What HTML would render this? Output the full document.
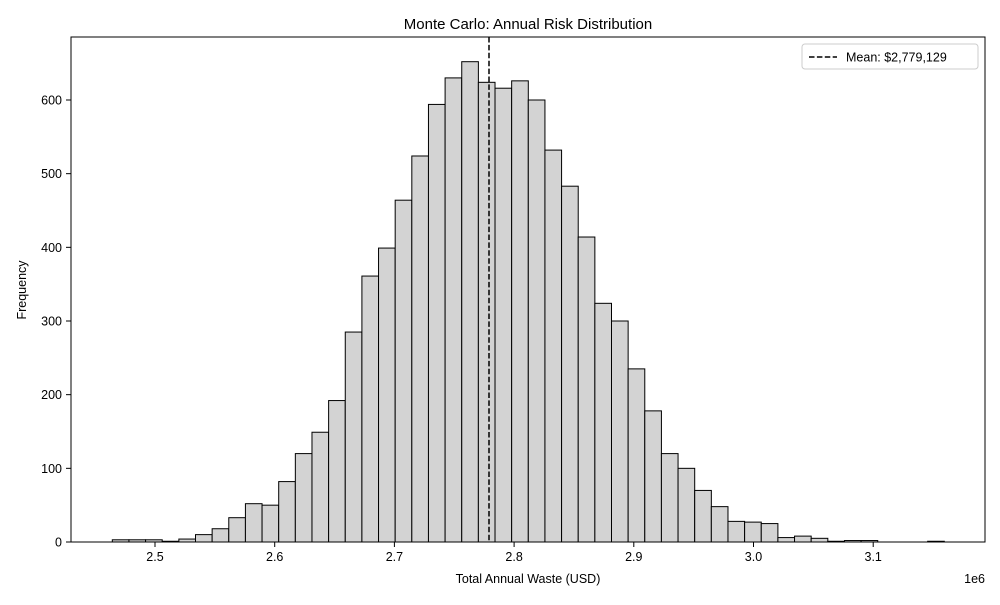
<!DOCTYPE html>
<html><head><style>body{margin:0;background:#fff}svg{font-family:"Liberation Sans","DejaVu Sans",sans-serif}</style></head>
<body>
<svg id="s" width="1000" height="600" xmlns="http://www.w3.org/2000/svg">
<rect width="1000" height="600" fill="#fff"/>
<g id="bars"></g>
<line x1="489" y1="37" x2="489" y2="542" stroke="#000" stroke-width="1.5" stroke-dasharray="5.5,2.4"/>
<rect x="71" y="37" width="914" height="505" fill="none" stroke="#000" stroke-width="1"/>
<g id="ticks" font-size="12.5" fill="#000"></g>
<text x="528" y="29" font-size="15" text-anchor="middle">Monte Carlo: Annual Risk Distribution</text>
<text x="528" y="583" font-size="12.5" text-anchor="middle">Total Annual Waste (USD)</text>
<text x="26" y="290" font-size="12.5" text-anchor="middle" transform="rotate(-90 26 290)">Frequency</text>
<text x="985" y="583" font-size="12.5" text-anchor="end">1e6</text>
<rect x="802" y="44" width="176" height="25" rx="3" fill="#fff" stroke="#ccc"/>
<line x1="809" y1="57" x2="837" y2="57" stroke="#000" stroke-width="1.5" stroke-dasharray="5.5,2.4"/>
<text x="846" y="61.5" font-size="12.5">Mean: $2,779,129</text>
</svg>
<script>
var v=[3,3,3,1,4,10,18,33,52,50,82,120,149,192,285,361,399,464,524,594,630,652,624,616,626,600,532,483,414,324,300,235,178,120,100,70,48,28,27,25,6,8,5,1,2,2,0,0,0,1];
var g=document.getElementById('bars'),h='',w=16.64,k=442/600;
v.forEach(function(c,i){if(c>0){var x=112.3+i*w,hh=c*k;h+='<rect x="'+x.toFixed(2)+'" y="'+(542-hh).toFixed(2)+'" width="'+w+'" height="'+hh.toFixed(2)+'" fill="#d3d3d3" stroke="#000" stroke-width="1"/>';}});
g.innerHTML=h;
var t='';
for(var j=0;j<=6;j++){var y=542-j*100*k;t+='<line x1="66" x2="71" y1="'+y+'" y2="'+y+'" stroke="#000"/><text x="62" y="'+(y+4.5)+'" text-anchor="end">'+(j*100)+'</text>';}
var lab=['2.5','2.6','2.7','2.8','2.9','3.0','3.1'];
for(var j=0;j<7;j++){var x=155+j*119.7;t+='<line x1="'+x+'" x2="'+x+'" y1="542" y2="547" stroke="#000"/><text x="'+x+'" y="561" text-anchor="middle">'+lab[j]+'</text>';}
document.getElementById('ticks').innerHTML=t;
</script>
</body></html>
